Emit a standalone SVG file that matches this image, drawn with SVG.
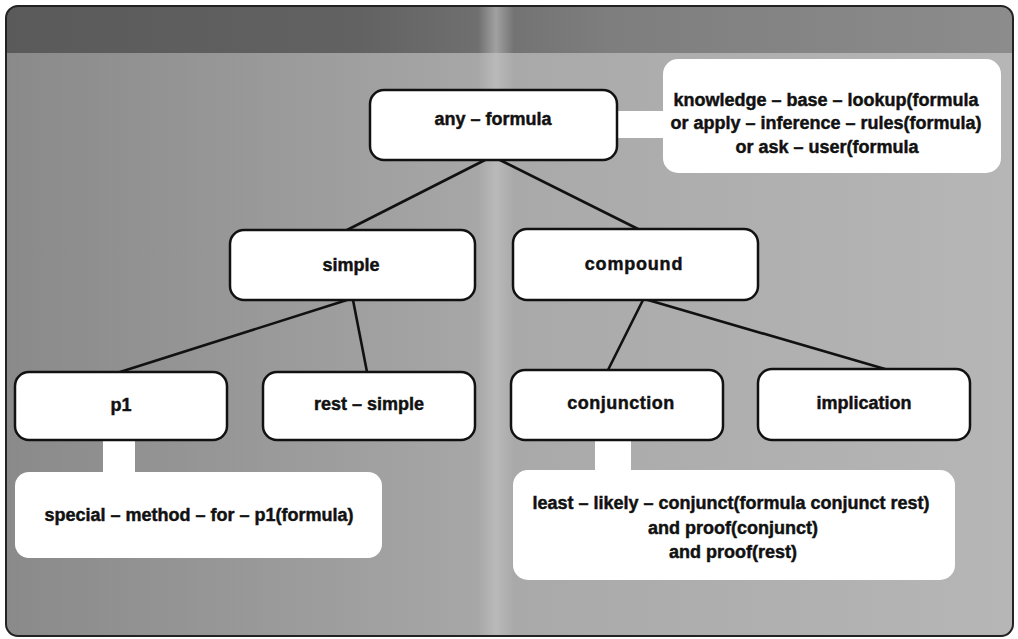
<svg xmlns="http://www.w3.org/2000/svg" width="1018" height="639" viewBox="0 0 1018 639">
  <style>
    .node rect { fill: #ffffff; stroke: #111111; stroke-width: 2.5; }
    .note rect { fill: #ffffff; stroke: none; }
    text { font-family: "Liberation Sans", Arial, sans-serif; font-weight: bold; font-size: 18px; fill: #111111; stroke: #111111; stroke-width: 0.45; text-anchor: middle; }
    .edges line { stroke: #111111; stroke-width: 2.6; stroke-linecap: round; }
  </style>
  <defs>
    <linearGradient id="shade" x1="0" y1="0" x2="1" y2="0">
      <stop offset="0" stop-color="#8a8a8a"/>
      <stop offset="0.22" stop-color="#979797"/>
      <stop offset="0.5" stop-color="#a9a9a9"/>
      <stop offset="1" stop-color="#b6b6b6"/>
    </linearGradient>
    <linearGradient id="band" x1="0" y1="0" x2="1" y2="0">
      <stop offset="0" stop-color="#5a5a5a"/>
      <stop offset="0.35" stop-color="#626262"/>
      <stop offset="0.6" stop-color="#7e7e7e"/>
      <stop offset="1" stop-color="#8c8c8c"/>
    </linearGradient>
    <linearGradient id="streak" x1="0" y1="0" x2="1" y2="0">
      <stop offset="0" stop-color="#c8c8c8" stop-opacity="0"/>
      <stop offset="0.5" stop-color="#c8c8c8" stop-opacity="0.55"/>
      <stop offset="1" stop-color="#c8c8c8" stop-opacity="0"/>
    </linearGradient>
    <clipPath id="frameClip">
      <rect x="6" y="6" width="1007" height="630" rx="12"/>
    </clipPath>
  </defs>

  <!-- paper -->
  <rect x="0" y="0" width="1018" height="639" fill="#ffffff"/>

  <!-- shaded panel -->
  <g clip-path="url(#frameClip)">
    <rect x="6" y="6" width="1007" height="630" fill="url(#shade)"/>
    <rect x="6" y="6" width="1007" height="47" fill="url(#band)"/>
    <rect x="478" y="6" width="36" height="630" fill="url(#streak)"/>
  </g>
  <rect x="6" y="6" width="1007" height="630" rx="12" fill="none" stroke="#222222" stroke-width="2"/>

  <!-- connectors -->
  <g class="edges">
    <line x1="485" y1="160" x2="347" y2="230"/>
    <line x1="500" y1="160" x2="638" y2="229"/>
    <line x1="347" y1="300" x2="120" y2="372"/>
    <line x1="353" y1="300" x2="367" y2="372"/>
    <line x1="643" y1="300" x2="608" y2="370"/>
    <line x1="648" y1="300" x2="885" y2="369"/>
  </g>

  <!-- annotations attached to nodes -->
  <g id="note-lookup" class="note">
    <rect x="612" y="111" width="60" height="27" rx="0"/>
    <rect x="663" y="59" width="338" height="114" rx="15"/>
    <text x="826" y="106">knowledge – base – lookup(formula</text>
    <text x="826" y="129">or apply – inference – rules(formula)</text>
    <text x="827" y="153">or ask – user(formula</text>
  </g>
  <g id="note-p1" class="note">
    <rect x="103" y="436" width="32" height="44" rx="0"/>
    <rect x="15" y="472" width="367" height="86" rx="14"/>
    <text x="199" y="521">special – method – for – p1(formula)</text>
  </g>
  <g id="note-conjunction" class="note">
    <rect x="595" y="436" width="36" height="42" rx="0"/>
    <rect x="513" y="470" width="442" height="110" rx="15"/>
    <text x="731" y="509">least – likely – conjunct(formula conjunct rest)</text>
    <text x="733" y="534">and proof(conjunct)</text>
    <text x="733" y="558">and proof(rest)</text>
  </g>

  <!-- tree nodes -->
  <g id="any-formula" class="node">
    <rect x="370" y="90" width="247" height="70" rx="14"/>
    <text x="493" y="125">any – formula</text>
  </g>
  <g id="simple" class="node">
    <rect x="230" y="230" width="245" height="70" rx="14"/>
    <text x="351" y="271">simple</text>
  </g>
  <g id="compound" class="node">
    <rect x="513" y="229" width="245" height="71" rx="14"/>
    <text x="634" y="270" letter-spacing="0.8">compound</text>
  </g>
  <g id="p1" class="node">
    <rect x="15" y="372" width="212" height="68" rx="14"/>
    <text x="121" y="411">p1</text>
  </g>
  <g id="rest-simple" class="node">
    <rect x="263" y="372" width="212" height="68" rx="14"/>
    <text x="369" y="410">rest – simple</text>
  </g>
  <g id="conjunction" class="node">
    <rect x="511" y="370" width="212" height="70" rx="14"/>
    <text x="621" y="409" letter-spacing="0.5">conjunction</text>
  </g>
  <g id="implication" class="node">
    <rect x="758" y="369" width="212" height="71" rx="14"/>
    <text x="864" y="409">implication</text>
  </g>
</svg>
